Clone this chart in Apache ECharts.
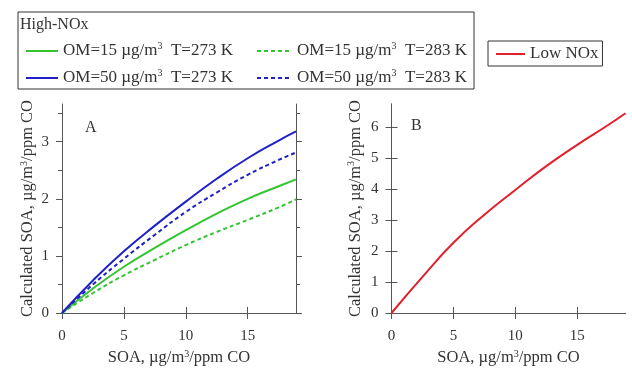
<!DOCTYPE html>
<html><head><meta charset="utf-8">
<script src="https://cdn.jsdelivr.net/npm/echarts@6/dist/echarts.min.js"></script>
<style>html,body{margin:0;padding:0;background:#fff}#c{width:632px;height:372px}</style>
</head><body><div id="c"></div>
<script>
// ---- data ----
const xA = [0, 2.5, 5, 7.5, 10, 12.5, 15, 17.5, 18.9];
const om15T273 = [0, 0.43, 0.81, 1.14, 1.45, 1.74, 2.00, 2.22, 2.34];
const om50T273 = [0, 0.57, 1.08, 1.53, 1.95, 2.35, 2.71, 3.02, 3.18];
const om15T283 = [0, 0.35, 0.66, 0.93, 1.19, 1.42, 1.63, 1.85, 1.99];
const om50T283 = [0, 0.50, 0.95, 1.37, 1.77, 2.11, 2.42, 2.68, 2.81];
const xB = [0, 2.5, 5, 7.5, 10, 12.5, 15, 17.5, 18.9];
const lowNOx = [0, 1.17, 2.27, 3.18, 3.98, 4.75, 5.44, 6.08, 6.46];
const xTicks = [0, 5, 10, 15];
const yTicksA = [0, 1, 2, 3];
const yMinorA = [0.5, 1.5, 2.5, 3.5];
const yTicksB = [0, 1, 2, 3, 4, 5, 6];
const names = ['OM=15 µg/m3  T=273 K', 'OM=50 µg/m3  T=273 K', 'OM=15 µg/m3  T=283 K', 'OM=50 µg/m3  T=283 K', 'Low NOx'];
const xName = 'SOA, µg/m{sup|3}/ppm CO';
const yName = 'Calculated SOA, µg/m{sup|3}/ppm CO';

const zip = (xs, ys) => xs.map((x, i) => [x, ys[i]]);
const FONT = 'Liberation Serif';
const TXT = '#333';
const AX = '#555';
const GREEN = '#33c433', BLUE = '#2020c8', RED = '#e0202c';
const rich = { sup: { fontSize: 10, verticalAlign: 'top', fontFamily: FONT, color: TXT, lineHeight: 12 } };

function xAxis(grid, pos, max, labels) {
  return {
    type: 'value', gridIndex: grid, position: pos, min: 0, max: max,
    axisLine: { show: true, lineStyle: { color: AX, width: 1 } },
    axisTick: { show: true, inside: false, length: 6, lineStyle: { color: AX }, customValues: xTicks },
    axisLabel: { show: labels, customValues: xTicks, margin: 16, fontFamily: FONT, fontSize: 15, color: TXT },
    splitLine: { show: false },
    name: labels ? xName : '', nameLocation: 'middle', nameGap: 27,
    nameTextStyle: { fontFamily: FONT, fontSize: 16.5, color: TXT, rich: rich, lineHeight: 18 }
  };
}
function yAxis(grid, pos, max, ticks, labels, line, len, nameGap) {
  return {
    type: 'value', gridIndex: grid, position: pos, min: 0, max: max,
    axisLine: { show: line, lineStyle: { color: AX, width: 1 } },
    axisTick: { show: true, inside: false, length: len, lineStyle: { color: AX }, customValues: ticks },
    axisLabel: { show: labels, customValues: ticks, margin: 13, fontFamily: FONT, fontSize: 15, color: TXT },
    splitLine: { show: false },
    name: labels ? yName : '', nameLocation: 'middle', nameGap: nameGap || 25,
    nameTextStyle: { fontFamily: FONT, fontSize: 16.5, color: TXT, rich: rich, lineHeight: 18 }
  };
}
const legendFmt = n => n.replace('m3', 'm{sup|3}');
const legText = { fontFamily: FONT, fontSize: 17, color: TXT, rich: { sup: { fontSize: 10, verticalAlign: 'top', fontFamily: FONT, color: TXT, lineHeight: 12 } }, lineHeight: 20 };
const hideSym = { opacity: 0, borderWidth: 0 };

const option = {
  animation: false,
  backgroundColor: '#fff',
  grid: [
    { left: 62, top: 104, width: 234, height: 209, containLabel: false },
    { left: 391.5, top: 104, width: 234, height: 209, containLabel: false }
  ],
  xAxis: [xAxis(0, 'bottom', 18.9, true), xAxis(0, 'top', 18.9, false),
          xAxis(1, 'bottom', 18.9, true), xAxis(1, 'top', 18.9, false)],
  yAxis: [yAxis(0, 'left', 3.66, yTicksA, true, true, 6),
          yAxis(0, 'left', 3.66, yMinorA, false, false, 4),
          yAxis(0, 'right', 3.66, yTicksA, false, true, 6),
          yAxis(0, 'right', 3.66, yMinorA, false, false, 4),
          yAxis(1, 'left', 6.76, yTicksB, true, true, 6, 27),
          yAxis(1, 'right', 6.76, yTicksB, false, true, 6)],
  legend: [
    { data: [names[0], names[1]], orient: 'vertical', left: 25, top: 41, itemWidth: 32, itemHeight: 14, itemGap: 7,
      padding: 0, formatter: legendFmt, textStyle: legText, itemStyle: hideSym },
    { data: [names[2], names[3]], orient: 'vertical', left: 256, top: 41, itemWidth: 35, itemHeight: 14, itemGap: 7,
      padding: 0, formatter: legendFmt, textStyle: legText, itemStyle: hideSym },
    { data: [names[4]], left: 488, top: 41, itemWidth: 29, itemHeight: 14, padding: [3, 4, 2, 7],
      borderColor: '#333', borderWidth: 1, textStyle: legText, itemStyle: hideSym }
  ],
  series: [
    { name: names[0], type: 'line', xAxisIndex: 0, yAxisIndex: 0, data: zip(xA, om15T273), smooth: true, symbol: 'none', lineStyle: { color: GREEN, width: 2 }, itemStyle: { color: GREEN } },
    { name: names[1], type: 'line', xAxisIndex: 0, yAxisIndex: 0, data: zip(xA, om50T273), smooth: true, symbol: 'none', lineStyle: { color: BLUE, width: 2 }, itemStyle: { color: BLUE } },
    { name: names[2], type: 'line', xAxisIndex: 0, yAxisIndex: 0, data: zip(xA, om15T283), smooth: true, symbol: 'none', lineStyle: { color: GREEN, width: 2, type: [4, 3] }, itemStyle: { color: GREEN } },
    { name: names[3], type: 'line', xAxisIndex: 0, yAxisIndex: 0, data: zip(xA, om50T283), smooth: true, symbol: 'none', lineStyle: { color: BLUE, width: 2, type: [4, 3] }, itemStyle: { color: BLUE } },
    { name: names[4], type: 'line', xAxisIndex: 2, yAxisIndex: 4, data: zip(xB, lowNOx), smooth: true, symbol: 'none', lineStyle: { color: RED, width: 2 }, itemStyle: { color: RED } }
  ],
  graphic: [
    { type: 'rect', shape: { x: 18, y: 12, width: 456, height: 77 }, style: { fill: 'none', stroke: '#333', lineWidth: 1 }, silent: true },
    { type: 'text', left: 20, top: 17, style: { text: 'High-NOx', font: '16px "Liberation Serif"', fill: TXT } },
    { type: 'text', left: 85, top: 120, style: { text: 'A', font: '16px "Liberation Serif"', fill: TXT } },
    { type: 'text', left: 411, top: 118, style: { text: 'B', font: '16px "Liberation Serif"', fill: TXT } }
  ]
};
const chart = echarts.init(document.getElementById('c'), null, { renderer: 'canvas' });
chart.setOption(option);
</script></body></html>
